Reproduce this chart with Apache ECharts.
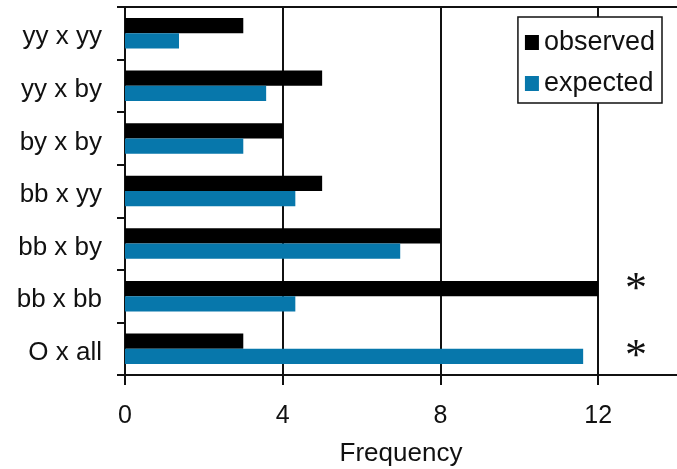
<!DOCTYPE html>
<html>
<head>
<meta charset="utf-8">
<script src="https://cdn.jsdelivr.net/npm/echarts@6/dist/echarts.min.js"></script>
<style>
  html, body { margin: 0; padding: 0; background: #fff; }
  #chart { width: 677px; height: 469px; }
</style>
</head>
<body>
<div id="chart"></div>
<script>
// Cross types, listed top to bottom
const crosses = ['yy x yy', 'yy x by', 'by x by', 'bb x yy', 'bb x by', 'bb x bb', 'O x all'];
const observed = [3, 5, 4, 5, 8, 12, 3];
const expected = [1.37, 3.58, 3.0, 4.32, 6.98, 4.32, 11.62];
// Significant deviations: which bar the asterisk flags
const significance = ['', '', '', '', '', 'obs', 'exp'];
const xTicks = [0, 4, 8, 12];

const FONT = 'Liberation Sans, Arial, sans-serif';
const SERIF = 'Liberation Serif, Times New Roman, serif';
const chart = echarts.init(document.getElementById('chart'), null, { renderer: 'canvas' });

chart.setOption({
  animation: false,
  backgroundColor: '#fff',
  grid: { left: 125, right: 0, top: 7, bottom: 94, containLabel: false, outerBoundsMode: 'none' },
  legend: {
    data: ['observed', 'expected'],
    orient: 'vertical',
    right: 15,
    top: 17,
    icon: 'rect',
    itemWidth: 14,
    itemHeight: 15,
    itemGap: 14,
    padding: [12, 7, 6, 7],
    backgroundColor: '#fff',
    borderColor: '#111',
    borderWidth: 1.5,
    borderRadius: 0,
    textStyle: { fontFamily: FONT, fontSize: 27, color: '#111' }
  },
  xAxis: [
    {
      type: 'value',
      min: 0,
      max: 14,
      interval: 4,
      name: 'Frequency',
      nameLocation: 'middle',
      nameGap: 66,
      nameTextStyle: { fontFamily: FONT, fontSize: 26, color: '#111' },
      axisLine: { show: true, lineStyle: { color: '#111', width: 2 } },
      axisTick: { show: true, length: 10, customValues: xTicks, lineStyle: { color: '#111', width: 2 } },
      axisLabel: {
        fontFamily: FONT, fontSize: 25, color: '#111', margin: 29,
        customValues: xTicks
      },
      splitLine: { show: true, lineStyle: { color: '#111', width: 2 } }
    },
    {
      // top frame line
      type: 'value',
      position: 'top',
      min: 0,
      max: 14,
      interval: 4,
      axisLine: { show: true, lineStyle: { color: '#111', width: 2 } },
      axisTick: { show: false },
      axisLabel: { show: false },
      splitLine: { show: false }
    }
  ],
  yAxis: [
    {
      type: 'category',
      data: crosses,
      inverse: true,
      axisLine: { show: true, lineStyle: { color: '#111', width: 2 } },
      axisTick: { show: true, length: 8, lineStyle: { color: '#111', width: 2 } },
      axisLabel: {
        margin: 23,
        formatter: v => '{c|' + v + '}',
        rich: { c: { fontFamily: FONT, fontSize: 26, color: '#111', padding: [8, 0, 0, 0] } }
      }
    },
    {
      // significance markers
      type: 'category',
      data: crosses,
      inverse: true,
      position: 'right',
      axisLine: { show: false },
      axisTick: { show: false },
      axisLabel: {
        inside: true,
        align: 'center',
        margin: 41,
        formatter: (v, i) => (significance[i] ? '{' + significance[i] + '|*}' : ''),
        rich: {
          obs: { fontFamily: SERIF, fontSize: 44, color: '#111', padding: [0, 0, 11, 0] },
          exp: { fontFamily: SERIF, fontSize: 44, color: '#111', padding: [0, 0, -18, 0] }
        }
      }
    }
  ],
  series: [
    {
      name: 'observed',
      type: 'bar',
      data: observed,
      barGap: '0%',
      barCategoryGap: '42%',
      itemStyle: { color: '#000' }
    },
    {
      name: 'expected',
      type: 'bar',
      data: expected,
      barGap: '0%',
      barCategoryGap: '42%',
      itemStyle: { color: '#0777ab' }
    }
  ]
});
</script>
</body>
</html>
